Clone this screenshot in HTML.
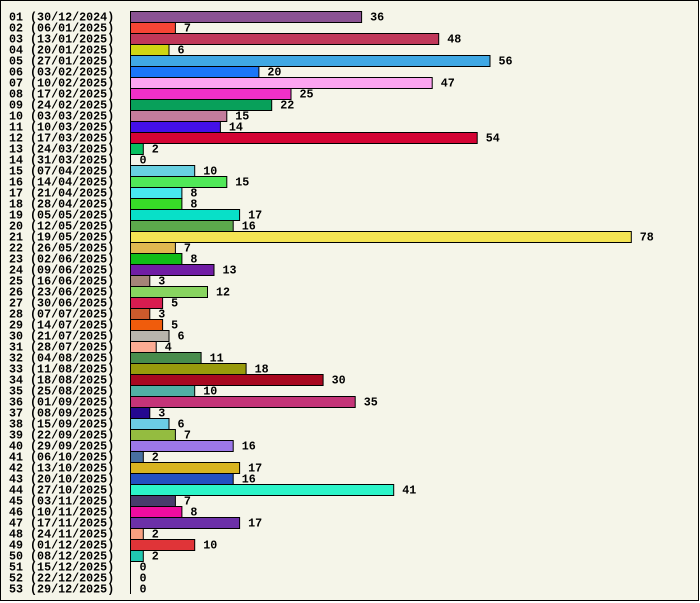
<!DOCTYPE html>
<html><head><meta charset="utf-8"><style>
html,body{margin:0;padding:0;background:#fff}
svg{display:block}
text{font-family:"Liberation Mono",monospace;font-weight:bold;font-size:11.7px;fill:#000}
rect.b{stroke:#000;stroke-width:1}
</style></head><body>
<svg width="700" height="603" xmlns="http://www.w3.org/2000/svg">
<rect x="0.5" y="0.5" width="698" height="600" fill="#f5f5e9" stroke="#000"/>
<g transform="translate(0,11)"><rect class="b" x="130.5" y="0.5" width="231.1" height="11" fill="#8b5393"/><text x="9" y="9.5">01 (30/12/2024)</text><text x="370.1" y="9.5">36</text></g>
<g transform="translate(0,22)"><rect class="b" x="130.5" y="0.5" width="44.9" height="11" fill="#f64535"/><text x="9" y="9.5">02 (06/01/2025)</text><text x="183.9" y="9.5">7</text></g>
<g transform="translate(0,33)"><rect class="b" x="130.5" y="0.5" width="308.2" height="11" fill="#c0385a"/><text x="9" y="9.5">03 (13/01/2025)</text><text x="447.2" y="9.5">48</text></g>
<g transform="translate(0,44)"><rect class="b" x="130.5" y="0.5" width="38.5" height="11" fill="#cfd612"/><text x="9" y="9.5">04 (20/01/2025)</text><text x="177.5" y="9.5">6</text></g>
<g transform="translate(0,55)"><rect class="b" x="130.5" y="0.5" width="359.5" height="11" fill="#40a8e4"/><text x="9" y="9.5">05 (27/01/2025)</text><text x="498.5" y="9.5">56</text></g>
<g transform="translate(0,66)"><rect class="b" x="130.5" y="0.5" width="128.4" height="11" fill="#1a76f8"/><text x="9" y="9.5">06 (03/02/2025)</text><text x="267.4" y="9.5">20</text></g>
<g transform="translate(0,77)"><rect class="b" x="130.5" y="0.5" width="301.7" height="11" fill="#fca4f0"/><text x="9" y="9.5">07 (10/02/2025)</text><text x="440.7" y="9.5">47</text></g>
<g transform="translate(0,88)"><rect class="b" x="130.5" y="0.5" width="160.5" height="11" fill="#f030c8"/><text x="9" y="9.5">08 (17/02/2025)</text><text x="299.5" y="9.5">25</text></g>
<g transform="translate(0,99)"><rect class="b" x="130.5" y="0.5" width="141.2" height="11" fill="#08a05a"/><text x="9" y="9.5">09 (24/02/2025)</text><text x="280.2" y="9.5">22</text></g>
<g transform="translate(0,110)"><rect class="b" x="130.5" y="0.5" width="96.3" height="11" fill="#c47c9c"/><text x="9" y="9.5">10 (03/03/2025)</text><text x="235.3" y="9.5">15</text></g>
<g transform="translate(0,121)"><rect class="b" x="130.5" y="0.5" width="89.9" height="11" fill="#4410e8"/><text x="9" y="9.5">11 (10/03/2025)</text><text x="228.9" y="9.5">14</text></g>
<g transform="translate(0,132)"><rect class="b" x="130.5" y="0.5" width="346.7" height="11" fill="#d40434"/><text x="9" y="9.5">12 (17/03/2025)</text><text x="485.7" y="9.5">54</text></g>
<g transform="translate(0,143)"><rect class="b" x="130.5" y="0.5" width="12.8" height="11" fill="#08c060"/><text x="9" y="9.5">13 (24/03/2025)</text><text x="151.8" y="9.5">2</text></g>
<g transform="translate(0,154)"><text x="9" y="9.5">14 (31/03/2025)</text><text x="139.5" y="9.5">0</text></g>
<g transform="translate(0,165)"><rect class="b" x="130.5" y="0.5" width="64.2" height="11" fill="#68d0e0"/><text x="9" y="9.5">15 (07/04/2025)</text><text x="203.2" y="9.5">10</text></g>
<g transform="translate(0,176)"><rect class="b" x="130.5" y="0.5" width="96.3" height="11" fill="#50e858"/><text x="9" y="9.5">16 (14/04/2025)</text><text x="235.3" y="9.5">15</text></g>
<g transform="translate(0,187)"><rect class="b" x="130.5" y="0.5" width="51.4" height="11" fill="#48e8f0"/><text x="9" y="9.5">17 (21/04/2025)</text><text x="190.4" y="9.5">8</text></g>
<g transform="translate(0,198)"><rect class="b" x="130.5" y="0.5" width="51.4" height="11" fill="#38dc28"/><text x="9" y="9.5">18 (28/04/2025)</text><text x="190.4" y="9.5">8</text></g>
<g transform="translate(0,209)"><rect class="b" x="130.5" y="0.5" width="109.1" height="11" fill="#08e0c8"/><text x="9" y="9.5">19 (05/05/2025)</text><text x="248.1" y="9.5">17</text></g>
<g transform="translate(0,220)"><rect class="b" x="130.5" y="0.5" width="102.7" height="11" fill="#5ca84c"/><text x="9" y="9.5">20 (12/05/2025)</text><text x="241.7" y="9.5">16</text></g>
<g transform="translate(0,231)"><rect class="b" x="130.5" y="0.5" width="500.8" height="11" fill="#f4e454"/><text x="9" y="9.5">21 (19/05/2025)</text><text x="639.8" y="9.5">78</text></g>
<g transform="translate(0,242)"><rect class="b" x="130.5" y="0.5" width="44.9" height="11" fill="#e0b850"/><text x="9" y="9.5">22 (26/05/2025)</text><text x="183.9" y="9.5">7</text></g>
<g transform="translate(0,253)"><rect class="b" x="130.5" y="0.5" width="51.4" height="11" fill="#10bc18"/><text x="9" y="9.5">23 (02/06/2025)</text><text x="190.4" y="9.5">8</text></g>
<g transform="translate(0,264)"><rect class="b" x="130.5" y="0.5" width="83.5" height="11" fill="#701ca4"/><text x="9" y="9.5">24 (09/06/2025)</text><text x="222.5" y="9.5">13</text></g>
<g transform="translate(0,275)"><rect class="b" x="130.5" y="0.5" width="19.3" height="11" fill="#a48478"/><text x="9" y="9.5">25 (16/06/2025)</text><text x="158.3" y="9.5">3</text></g>
<g transform="translate(0,286)"><rect class="b" x="130.5" y="0.5" width="77" height="11" fill="#88d460"/><text x="9" y="9.5">26 (23/06/2025)</text><text x="216" y="9.5">12</text></g>
<g transform="translate(0,297)"><rect class="b" x="130.5" y="0.5" width="32.1" height="11" fill="#d81c50"/><text x="9" y="9.5">27 (30/06/2025)</text><text x="171.1" y="9.5">5</text></g>
<g transform="translate(0,308)"><rect class="b" x="130.5" y="0.5" width="19.3" height="11" fill="#cc5a2c"/><text x="9" y="9.5">28 (07/07/2025)</text><text x="158.3" y="9.5">3</text></g>
<g transform="translate(0,319)"><rect class="b" x="130.5" y="0.5" width="32.1" height="11" fill="#f05c0c"/><text x="9" y="9.5">29 (14/07/2025)</text><text x="171.1" y="9.5">5</text></g>
<g transform="translate(0,330)"><rect class="b" x="130.5" y="0.5" width="38.5" height="11" fill="#b8b4ac"/><text x="9" y="9.5">30 (21/07/2025)</text><text x="177.5" y="9.5">6</text></g>
<g transform="translate(0,341)"><rect class="b" x="130.5" y="0.5" width="25.7" height="11" fill="#fcac94"/><text x="9" y="9.5">31 (28/07/2025)</text><text x="164.7" y="9.5">4</text></g>
<g transform="translate(0,352)"><rect class="b" x="130.5" y="0.5" width="70.6" height="11" fill="#488c4c"/><text x="9" y="9.5">32 (04/08/2025)</text><text x="209.6" y="9.5">11</text></g>
<g transform="translate(0,363)"><rect class="b" x="130.5" y="0.5" width="115.6" height="11" fill="#989a0c"/><text x="9" y="9.5">33 (11/08/2025)</text><text x="254.6" y="9.5">18</text></g>
<g transform="translate(0,374)"><rect class="b" x="130.5" y="0.5" width="192.6" height="11" fill="#a80820"/><text x="9" y="9.5">34 (18/08/2025)</text><text x="331.6" y="9.5">30</text></g>
<g transform="translate(0,385)"><rect class="b" x="130.5" y="0.5" width="64.2" height="11" fill="#50b0a4"/><text x="9" y="9.5">35 (25/08/2025)</text><text x="203.2" y="9.5">10</text></g>
<g transform="translate(0,396)"><rect class="b" x="130.5" y="0.5" width="224.7" height="11" fill="#c43478"/><text x="9" y="9.5">36 (01/09/2025)</text><text x="363.7" y="9.5">35</text></g>
<g transform="translate(0,407)"><rect class="b" x="130.5" y="0.5" width="19.3" height="11" fill="#240890"/><text x="9" y="9.5">37 (08/09/2025)</text><text x="158.3" y="9.5">3</text></g>
<g transform="translate(0,418)"><rect class="b" x="130.5" y="0.5" width="38.5" height="11" fill="#6ccce4"/><text x="9" y="9.5">38 (15/09/2025)</text><text x="177.5" y="9.5">6</text></g>
<g transform="translate(0,429)"><rect class="b" x="130.5" y="0.5" width="44.9" height="11" fill="#94bc40"/><text x="9" y="9.5">39 (22/09/2025)</text><text x="183.9" y="9.5">7</text></g>
<g transform="translate(0,440)"><rect class="b" x="130.5" y="0.5" width="102.7" height="11" fill="#9c78e8"/><text x="9" y="9.5">40 (29/09/2025)</text><text x="241.7" y="9.5">16</text></g>
<g transform="translate(0,451)"><rect class="b" x="130.5" y="0.5" width="12.8" height="11" fill="#4870a0"/><text x="9" y="9.5">41 (06/10/2025)</text><text x="151.8" y="9.5">2</text></g>
<g transform="translate(0,462)"><rect class="b" x="130.5" y="0.5" width="109.1" height="11" fill="#d8b420"/><text x="9" y="9.5">42 (13/10/2025)</text><text x="248.1" y="9.5">17</text></g>
<g transform="translate(0,473)"><rect class="b" x="130.5" y="0.5" width="102.7" height="11" fill="#2450c0"/><text x="9" y="9.5">43 (20/10/2025)</text><text x="241.7" y="9.5">16</text></g>
<g transform="translate(0,484)"><rect class="b" x="130.5" y="0.5" width="263.2" height="11" fill="#2cf4c8"/><text x="9" y="9.5">44 (27/10/2025)</text><text x="402.2" y="9.5">41</text></g>
<g transform="translate(0,495)"><rect class="b" x="130.5" y="0.5" width="44.9" height="11" fill="#483c6c"/><text x="9" y="9.5">45 (03/11/2025)</text><text x="183.9" y="9.5">7</text></g>
<g transform="translate(0,506)"><rect class="b" x="130.5" y="0.5" width="51.4" height="11" fill="#f00ca0"/><text x="9" y="9.5">46 (10/11/2025)</text><text x="190.4" y="9.5">8</text></g>
<g transform="translate(0,517)"><rect class="b" x="130.5" y="0.5" width="109.1" height="11" fill="#6c30a8"/><text x="9" y="9.5">47 (17/11/2025)</text><text x="248.1" y="9.5">17</text></g>
<g transform="translate(0,528)"><rect class="b" x="130.5" y="0.5" width="12.8" height="11" fill="#f8a080"/><text x="9" y="9.5">48 (24/11/2025)</text><text x="151.8" y="9.5">2</text></g>
<g transform="translate(0,539)"><rect class="b" x="130.5" y="0.5" width="64.2" height="11" fill="#e03438"/><text x="9" y="9.5">49 (01/12/2025)</text><text x="203.2" y="9.5">10</text></g>
<g transform="translate(0,550)"><rect class="b" x="130.5" y="0.5" width="12.8" height="11" fill="#20c8b0"/><text x="9" y="9.5">50 (08/12/2025)</text><text x="151.8" y="9.5">2</text></g>
<g transform="translate(0,561)"><text x="9" y="9.5">51 (15/12/2025)</text><text x="139.5" y="9.5">0</text></g>
<g transform="translate(0,572)"><text x="9" y="9.5">52 (22/12/2025)</text><text x="139.5" y="9.5">0</text></g>
<g transform="translate(0,583)"><text x="9" y="9.5">53 (29/12/2025)</text><text x="139.5" y="9.5">0</text></g>
<line x1="130.5" y1="11" x2="130.5" y2="594" stroke="#000"/>
</svg>
</body></html>
